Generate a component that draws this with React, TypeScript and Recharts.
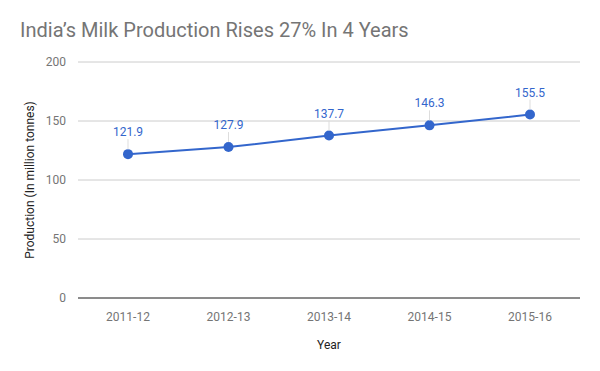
import React from 'react';
import { LineChart, Line, XAxis, YAxis, CartesianGrid, LabelList, Label } from 'recharts';

const years = ['2011-12', '2012-13', '2013-14', '2014-15', '2015-16'];
const production = [121.9, 127.9, 137.7, 146.3, 155.5];
const yTicks = [0, 50, 100, 150, 200];

const data = years.map((y, i) => ({ year: y, value: production[i] }));

const FONT = 'Roboto, sans-serif';
const BLUE = '#3366cc';
const GRAY = '#757575';

const PointLabel = (props: any) => {
  const { x, y, value } = props;
  return (
    <g>
      <line x1={x} y1={y - 5} x2={x} y2={y - 15} stroke="#dddddd" strokeWidth={1} />
      <text x={x} y={y - 18} textAnchor="middle" fill={BLUE} fontSize={12} fontFamily={FONT}>
        {value}
      </text>
    </g>
  );
};

export default function App() {
  return (
    <div style={{ position: 'absolute', left: 0, top: 0, width: 600, height: 371, background: '#fff' }}>
      <div
        style={{
          position: 'absolute',
          left: 20,
          top: 18,
          fontFamily: FONT,
          fontSize: 20,
          color: GRAY,
          whiteSpace: 'nowrap',
        }}
      >
        India’s Milk Production Rises 27% In 4 Years
      </div>
      <LineChart
        width={600}
        height={371}
        data={data}
        margin={{ top: 62, right: 20, left: 0, bottom: 0 }}
        style={{ fontFamily: FONT }}
      >
        <CartesianGrid vertical={false} stroke="#cccccc" />
        <XAxis
          dataKey="year"
          height={73}
          padding={{ left: 50, right: 50 }}
          axisLine={{ stroke: '#333333' }}
          tickLine={false}
          tickMargin={8}
          tick={{ fill: GRAY, fontSize: 12, fontFamily: FONT }}
          interval={0}
        >
          <Label value="Year" position="center" dy={10} fill="#222" fontSize={12} fontFamily={FONT} />
        </XAxis>
        <YAxis
          width={78}
          domain={[0, 200]}
          ticks={yTicks}
          axisLine={false}
          tickLine={false}
          tickMargin={6}
          tick={{ fill: GRAY, fontSize: 12, fontFamily: FONT }}
        >
          <Label
            value="Production (In million tonnes)"
            angle={-90}
            position="center"
            dx={-9}
            fill="#222"
            fontSize={12}
            fontFamily={FONT}
          />
        </YAxis>
        <Line
          type="linear"
          dataKey="value"
          stroke={BLUE}
          strokeWidth={2}
          dot={{ r: 5, fill: BLUE, stroke: BLUE, strokeWidth: 0 }}
          activeDot={false}
          isAnimationActive={false}
        >
          <LabelList dataKey="value" content={PointLabel} />
        </Line>
      </LineChart>
    </div>
  );
}
